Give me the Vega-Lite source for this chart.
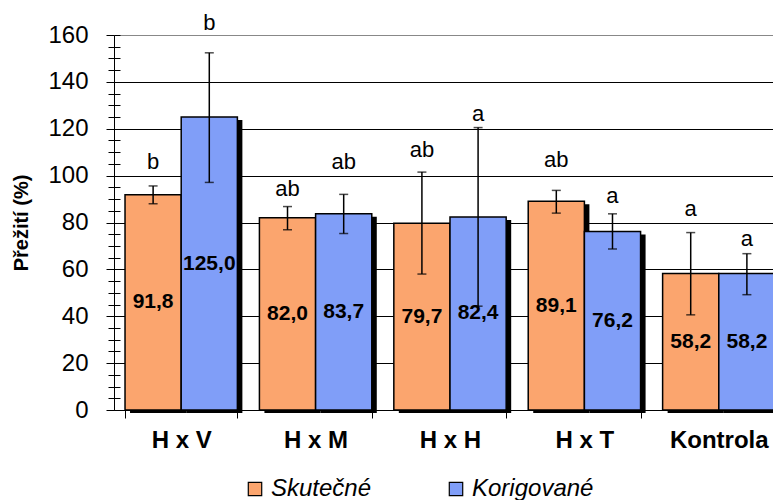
{
  "$schema": "https://vega.github.io/schema/vega-lite/v6.json",
  "autosize": {"type": "none"},
  "padding": {"left": 114, "top": 35, "right": 0, "bottom": 90},
  "width": 672,
  "height": 375,
  "background": "white",
  "config": {
    "font": "Liberation Sans",
    "view": {"stroke": null},
    "locale": {"number": {"decimal": ",", "thousands": " ", "grouping": [3], "currency": ["", " Kč"]}}
  },
  "data": {
    "values": [
      {"cat": "H x V", "series": "Skutečné", "v": 91.8, "lo": 88.0, "hi": 95.6, "sig": "b", "sig_y": 105.8},
      {"cat": "H x V", "series": "Korigované", "v": 125.0, "lo": 97.1, "hi": 152.4, "sig": "b", "sig_y": 165.1},
      {"cat": "H x M", "series": "Skutečné", "v": 82.0, "lo": 76.9, "hi": 86.8, "sig": "ab", "sig_y": 94.5},
      {"cat": "H x M", "series": "Korigované", "v": 83.7, "lo": 75.3, "hi": 92.0, "sig": "ab", "sig_y": 105.8},
      {"cat": "H x H", "series": "Skutečné", "v": 79.7, "lo": 58.0, "hi": 101.5, "sig": "ab", "sig_y": 110.8},
      {"cat": "H x H", "series": "Korigované", "v": 82.4, "lo": 44.3, "hi": 120.5, "sig": "a", "sig_y": 126.2},
      {"cat": "H x T", "series": "Skutečné", "v": 89.1, "lo": 84.0, "hi": 93.7, "sig": "ab", "sig_y": 106.5},
      {"cat": "H x T", "series": "Korigované", "v": 76.2, "lo": 68.7, "hi": 83.7, "sig": "a", "sig_y": 91.3},
      {"cat": "Kontrola", "series": "Skutečné", "v": 58.2, "lo": 40.6, "hi": 75.7, "sig": "a", "sig_y": 85.6},
      {"cat": "Kontrola", "series": "Korigované", "v": 58.2, "lo": 49.2, "hi": 66.7, "sig": "a", "sig_y": 73.0}
    ]
  },
  "resolve": {"scale": {"x": "independent", "y": "independent"}},
  "layer": [
    {
      "mark": {"type": "bar", "fill": "black", "yOffset": 3},
      "encoding": {
        "x": {"field": "cat", "type": "nominal", "sort": ["H x V", "H x M", "H x H", "H x T", "Kontrola"], "scale": {"paddingInner": 0.164, "paddingOuter": 0.082, "align": 0.727}, "axis": null},
        "xOffset": {"field": "series", "type": "nominal", "sort": ["Skutečné", "Korigované"]},
        "y": {"field": "v", "type": "quantitative", "scale": {"domain": [0, 160]}, "axis": null}
      }
    },
    {
      "mark": {"type": "bar", "stroke": "black", "strokeWidth": 1.5},
      "encoding": {
        "x": {"field": "cat", "type": "nominal", "sort": ["H x V", "H x M", "H x H", "H x T", "Kontrola"], "scale": {"paddingInner": 0.164, "paddingOuter": 0.082},
          "axis": {"title": null, "orient": "bottom", "tickBand": "extent", "labelAngle": 0, "labelFontSize": 24, "labelFontWeight": "bold", "labelColor": "black", "tickSize": 8, "tickColor": "black", "domainColor": "black", "labelPadding": 10, "grid": false}},
        "xOffset": {"field": "series", "type": "nominal", "sort": ["Skutečné", "Korigované"]},
        "y": {"field": "v", "type": "quantitative", "scale": {"domain": [0, 160]},
          "axis": {"title": "Přežití (%)", "orient": "left", "values": [0,5,10,15,20,25,30,35,40,45,50,55,60,65,70,75,80,85,90,95,100,105,110,115,120,125,130,135,140,145,150,155,160],
            "labelExpr": "datum.value % 20 === 0 ? datum.label : ''", "labelOverlap": false, "labelFontSize": 24, "labelColor": "black", "labelPadding": 18,
            "tickSize": {"condition": {"test": "datum.value % 20 === 0", "value": 8}, "value": 6}, "tickColor": "black", "domainColor": "black",
            "grid": true, "gridColor": {"condition": {"test": "datum.value === 160", "value": "#888888"}, "value": "black"},
            "gridOpacity": {"condition": {"test": "datum.value % 20 === 0", "value": 1}, "value": 0},
            "titleFontSize": 20, "titleFontWeight": "bold", "titleColor": "black", "titlePadding": 16}},
        "fill": {"field": "series", "type": "nominal", "sort": ["Skutečné", "Korigované"],
          "scale": {"domain": ["Skutečné", "Korigované"], "range": ["#FBA56E", "#809EF8"]},
          "legend": {"title": null, "orient": "none", "direction": "horizontal", "legendX": 129, "legendY": 442, "padding": 0,
            "symbolType": "square", "symbolSize": 180, "symbolStrokeColor": "black", "symbolStrokeWidth": 1.2, "symbolOpacity": 1,
            "labelFontSize": 24, "labelFontStyle": "italic", "labelColor": "black", "labelOffset": 4, "columnPadding": 72, "labelLimit": 300}}
      }
    },
    {
      "mark": {"type": "rule", "color": "black", "strokeWidth": 1.5},
      "encoding": {
        "x": {"field": "cat", "type": "nominal", "sort": ["H x V", "H x M", "H x H", "H x T", "Kontrola"], "scale": {"paddingInner": 0.164, "paddingOuter": 0.082}, "axis": null},
        "xOffset": {"field": "series", "type": "nominal", "sort": ["Skutečné", "Korigované"]},
        "y": {"field": "lo", "type": "quantitative", "scale": {"domain": [0, 160]}, "axis": null},
        "y2": {"field": "hi"}
      }
    },
    {
      "mark": {"type": "tick", "color": "black", "size": 9, "thickness": 1.5},
      "encoding": {
        "x": {"field": "cat", "type": "nominal", "sort": ["H x V", "H x M", "H x H", "H x T", "Kontrola"], "scale": {"paddingInner": 0.164, "paddingOuter": 0.082}, "axis": null},
        "xOffset": {"field": "series", "type": "nominal", "sort": ["Skutečné", "Korigované"]},
        "y": {"field": "lo", "type": "quantitative", "scale": {"domain": [0, 160]}, "axis": null}
      }
    },
    {
      "mark": {"type": "tick", "color": "black", "size": 9, "thickness": 1.5},
      "encoding": {
        "x": {"field": "cat", "type": "nominal", "sort": ["H x V", "H x M", "H x H", "H x T", "Kontrola"], "scale": {"paddingInner": 0.164, "paddingOuter": 0.082}, "axis": null},
        "xOffset": {"field": "series", "type": "nominal", "sort": ["Skutečné", "Korigované"]},
        "y": {"field": "hi", "type": "quantitative", "scale": {"domain": [0, 160]}, "axis": null}
      }
    },
    {
      "mark": {"type": "text", "fontSize": 21, "fontWeight": "bold", "color": "black", "baseline": "middle", "align": "center"},
      "encoding": {
        "x": {"field": "cat", "type": "nominal", "sort": ["H x V", "H x M", "H x H", "H x T", "Kontrola"], "scale": {"paddingInner": 0.164, "paddingOuter": 0.082}, "axis": null},
        "xOffset": {"field": "series", "type": "nominal", "sort": ["Skutečné", "Korigované"]},
        "y": {"field": "v", "type": "quantitative", "scale": {"domain": [0, 320]},
          "axis": {"orient": "left", "title": null, "labels": false, "domain": false, "grid": false, "tickSize": -6, "tickColor": "black",
            "values": [0,10,20,30,40,50,60,70,80,90,100,110,120,130,140,150,160,170,180,190,200,210,220,230,240,250,260,270,280,290,300,310,320]}},
        "text": {"field": "v", "type": "quantitative", "format": ".1f"}
      }
    },
    {
      "mark": {"type": "text", "fontSize": 22, "color": "black", "baseline": "middle", "align": "center"},
      "encoding": {
        "x": {"field": "cat", "type": "nominal", "sort": ["H x V", "H x M", "H x H", "H x T", "Kontrola"], "scale": {"paddingInner": 0.164, "paddingOuter": 0.082}, "axis": null},
        "xOffset": {"field": "series", "type": "nominal", "sort": ["Skutečné", "Korigované"]},
        "y": {"field": "sig_y", "type": "quantitative", "scale": {"domain": [0, 160]}, "axis": null},
        "text": {"field": "sig"}
      }
    }
  ]
}
